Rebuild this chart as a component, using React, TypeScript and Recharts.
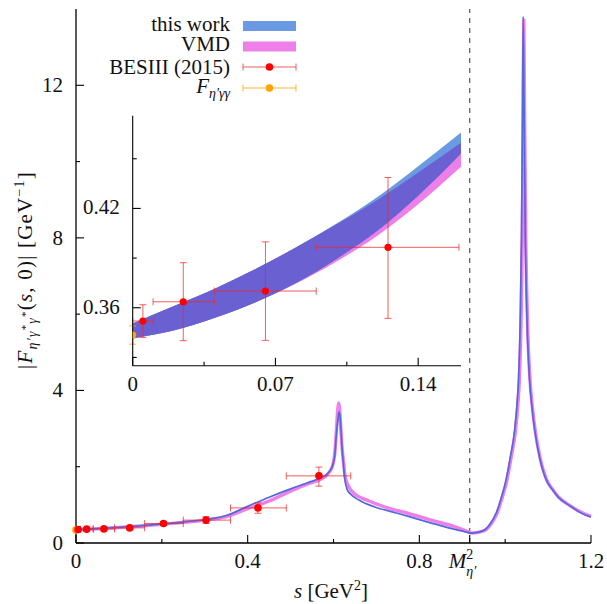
import React from 'react';
import { ComposedChart, Line, Area, Scatter, XAxis, YAxis, ErrorBar, ReferenceLine } from 'recharts';

const SERIF = "'Liberation Serif', 'Times New Roman', serif";
const FS = 21;
const INK = '#111';
const TXT = { fontFamily: SERIF, fontSize: FS, fill: INK } as React.CSSProperties;

const BLUE = '#6a9be2';
const PINK = '#ee7ee8';
const OVERLAP = '#6a60d2';
const BLUE_LINE = '#5468dc';
const RED = '#ff0000';
const RED_BAR = 'rgba(240,40,40,0.75)';
const ORANGE = '#ffa500';
const ORANGE_BAR = 'rgba(255,165,0,0.8)';

// ---------- main panel: "this work" ----------
const blueS = [0, 0.05, 0.1, 0.15, 0.2, 0.25, 0.3, 0.35, 0.4, 0.45, 0.5, 0.54, 0.57, 0.586, 0.597, 0.603, 0.6075, 0.611, 0.613, 0.6155, 0.6176, 0.6205, 0.623, 0.626, 0.632, 0.64, 0.66, 0.695, 0.749, 0.804, 0.858, 0.905, 0.92, 0.935, 0.952, 0.965, 0.979, 0.99, 1.002, 1.012, 1.022, 1.028, 1.031, 1.035, 1.038, 1.04, 1.042, 1.044, 1.047, 1.051, 1.057, 1.063, 1.069, 1.08, 1.096, 1.11, 1.123, 1.15, 1.185, 1.2];
const blueF = [0.346, 0.375, 0.409, 0.45, 0.5, 0.55, 0.61, 0.72, 0.96, 1.2, 1.42, 1.58, 1.71, 1.82, 2.0, 2.3, 2.95, 3.3, 3.43, 3.3, 2.95, 2.4, 2.09, 1.7, 1.4, 1.28, 1.12, 0.95, 0.78, 0.6, 0.43, 0.3, 0.26, 0.28, 0.34, 0.5, 0.78, 1.15, 1.65, 2.25, 2.95, 3.7, 4.26, 5.8, 8.0, 10.8, 13.8, 11.5, 8.0, 5.8, 4.26, 3.5, 2.95, 2.25, 1.65, 1.4, 1.21, 0.98, 0.74, 0.68];

// ---------- main panel: VMD ----------
const vmdS = [0, 0.05, 0.1, 0.15, 0.2, 0.25, 0.3, 0.35, 0.4, 0.45, 0.5, 0.54, 0.57, 0.586, 0.597, 0.603, 0.607, 0.61, 0.612, 0.6145, 0.617, 0.62, 0.623, 0.627, 0.636, 0.648, 0.679, 0.718, 0.773, 0.827, 0.882, 0.913, 0.922, 0.937, 0.954, 0.967, 0.981, 0.992, 1.004, 1.014, 1.024, 1.03, 1.033, 1.037, 1.04, 1.042, 1.0435, 1.045, 1.048, 1.052, 1.058, 1.064, 1.07, 1.081, 1.097, 1.111, 1.124, 1.151, 1.186, 1.2];
const vmdF = [0.346, 0.374, 0.406, 0.444, 0.49, 0.54, 0.6, 0.69, 0.9, 1.1, 1.36, 1.55, 1.67, 1.8, 2.0, 2.35, 3.0, 3.5, 3.67, 3.5, 3.0, 2.5, 2.15, 1.75, 1.47, 1.3, 1.12, 0.95, 0.78, 0.6, 0.43, 0.3, 0.26, 0.28, 0.34, 0.5, 0.78, 1.15, 1.65, 2.25, 2.95, 3.7, 4.26, 5.8, 8.0, 10.8, 13.7, 11.5, 8.0, 5.8, 4.26, 3.5, 2.95, 2.25, 1.65, 1.4, 1.21, 0.98, 0.76, 0.7];

// ---------- BESIII (2015) ----------
const besS = [0.005, 0.0248, 0.0651, 0.1252, 0.204, 0.303, 0.424, 0.566];
const besSLow = [0, 0.01, 0.04, 0.09, 0.16, 0.25, 0.36, 0.49];
const besSHigh = [0.01, 0.04, 0.09, 0.16, 0.25, 0.36, 0.49, 0.64];
const besF = [0.352, 0.3636, 0.3701, 0.3965, 0.51, 0.6, 0.92, 1.76];
const besFLow = [0.3421, 0.3401, 0.3403, 0.3536, 0.46, 0.51, 0.78, 1.49];
const besFHigh = [0.3618, 0.3872, 0.3998, 0.4387, 0.56, 0.69, 1.05, 1.99];

// ---------- F_{eta' gamma gamma} ----------
const ggS = [0];
const ggF = [0.3435];
const ggFLow = [0.338];
const ggFHigh = [0.349];

// ---------- inset bands ----------
const insetS = [0, 0.02, 0.04, 0.06, 0.08, 0.1, 0.12, 0.14, 0.161];
const blueLo = [0.3415, 0.3462, 0.3538, 0.3632, 0.3749, 0.3895, 0.4065, 0.4277, 0.4532];
const blueHi = [0.3505, 0.3609, 0.3714, 0.3832, 0.3964, 0.4109, 0.4269, 0.4455, 0.4659];
const pinkLo = [0.3415, 0.3462, 0.3538, 0.3632, 0.3745, 0.388, 0.4035, 0.4225, 0.4451];
const pinkHi = [0.3505, 0.3609, 0.3714, 0.3832, 0.3964, 0.4104, 0.4251, 0.4417, 0.4596];

// ---------- ticks ----------
const mEta2 = 0.9174;
const mainXTicks = [0, 0.2, 0.4, 0.6, 0.8, mEta2, 1.0, 1.2];
const mainXLabels = ['0', '', '0.4', '', '0.8', 'M', '', '1.2'];
const mainYTicks = [0, 2, 4, 6, 8, 10, 12];
const mainYLabels = ['0', '', '4', '', '8', '', '12'];
const insetXTicks = [0, 0.035, 0.07, 0.105, 0.14];
const insetXLabels = ['0', '', '0.07', '', '0.14'];
const insetYTicks = [0.33, 0.36, 0.39, 0.42, 0.45];
const insetYLabels = ['', '0.36', '', '0.42', ''];

// ---------- derived tables ----------
const mainBlue = blueS.map((s, i) => ({ s, F: blueF[i] }));
const mainVmd = vmdS.map((s, i) => ({ s, F: vmdF[i] }));
const besData = besS.map((s, i) => ({
  s,
  F: besF[i],
  sErr: [s - besSLow[i], besSHigh[i] - s],
  fErr: [besF[i] - besFLow[i], besFHigh[i] - besF[i]],
}));
const ggData = ggS.map((s, i) => ({ s, F: ggF[i], fErr: [ggF[i] - ggFLow[i], ggFHigh[i] - ggF[i]] }));
const insetBlue = insetS.map((s, i) => ({ s, range: [blueLo[i], blueHi[i]] }));
const insetPink = insetS.map((s, i) => ({ s, range: [pinkLo[i], pinkHi[i]] }));
const insetOverlap = insetS.map((s, i) => ({
  s,
  range: [Math.max(blueLo[i], pinkLo[i]), Math.min(blueHi[i], pinkHi[i])],
}));

const labelFor = (ticks: number[], labels: string[], v: number) => {
  const i = ticks.findIndex((t) => Math.abs(t - v) < 1e-9);
  return i >= 0 ? labels[i] : '';
};

const makeBottomTick = (ticks: number[], labels: string[], major: number, minor: number) => (props: any) => {
  const { x, y, payload } = props;
  const lab = labelFor(ticks, labels, payload.value);
  const len = lab ? major : minor;
  return (
    <g>
      <line x1={x} y1={y} x2={x} y2={y - len} stroke="#000" strokeWidth={1.1} />
      {lab === 'M' ? (
        <text x={x - 21} y={y + 25} style={TXT}>
          <tspan style={{ fontStyle: 'italic' }}>M</tspan>
          <tspan style={{ fontSize: 14 }} dy={-9}>2</tspan>
          <tspan style={{ fontSize: 14, fontStyle: 'italic' }} dx={-7} dy={17}>η′</tspan>
        </text>
      ) : lab ? (
        <text x={x} y={y + 25} textAnchor="middle" style={TXT}>
          {lab}
        </text>
      ) : null}
    </g>
  );
};

const makeTopTick = (ticks: number[], labels: string[], major: number, minor: number) => (props: any) => {
  const { x, y, payload } = props;
  const lab = labelFor(ticks, labels, payload.value);
  const len = lab ? major : minor;
  return <line x1={x} y1={y} x2={x} y2={y + len} stroke="#000" strokeWidth={1.1} />;
};

const makeLeftTick = (ticks: number[], labels: string[], major: number, minor: number, dy: number) => (props: any) => {
  const { x, y, payload } = props;
  const lab = labelFor(ticks, labels, payload.value);
  const len = lab ? major : minor;
  return (
    <g>
      <line x1={x} y1={y} x2={x + len} y2={y} stroke="#000" strokeWidth={1.1} />
      {lab ? (
        <text x={x - 13} y={y + dy} textAnchor="end" style={TXT}>
          {lab}
        </text>
      ) : null}
    </g>
  );
};

const makeRightTick = (ticks: number[], labels: string[], major: number, minor: number) => (props: any) => {
  const { x, y, payload } = props;
  const lab = labelFor(ticks, labels, payload.value);
  const len = lab ? major : minor;
  return <line x1={x} y1={y} x2={x - len} y2={y} stroke="#000" strokeWidth={1.1} />;
};

const axisLine = { stroke: '#000', strokeWidth: 1.3 };

const dotShape = (r: number, fill: string) => (props: any) =>
  props.cx == null ? <g /> : <circle cx={props.cx} cy={props.cy} r={r} fill={fill} />;

function MainChart() {
  return (
    <ComposedChart width={607} height={604} margin={{ top: 9, right: 16, bottom: 0, left: 0 }}>
      <XAxis xAxisId={0} type="number" dataKey="s" domain={[0, 1.2]} ticks={mainXTicks} interval={0} height={61}
        tickSize={0} tickMargin={0} tickLine={false} axisLine={axisLine} tick={makeBottomTick(mainXTicks, mainXLabels, 8, 4)} />
      <XAxis xAxisId="top" orientation="top" type="number" dataKey="s" domain={[0, 1.2]} ticks={mainXTicks} interval={0} height={0}
        tickSize={0} tickMargin={0} tickLine={false} axisLine={axisLine} tick={makeTopTick(mainXTicks, mainXLabels, 8, 4)} />
      <YAxis yAxisId={0} type="number" domain={[0, 14]} ticks={mainYTicks} interval={0} width={76}
        tickSize={0} tickMargin={0} tickLine={false} axisLine={axisLine} tick={makeLeftTick(mainYTicks, mainYLabels, 8, 4, 7)} />
      <YAxis yAxisId="right" orientation="right" type="number" domain={[0, 14]} ticks={mainYTicks} interval={0} width={0}
        tickSize={0} tickMargin={0} tickLine={false} axisLine={axisLine} tick={makeRightTick(mainYTicks, mainYLabels, 8, 4)} />
      <ReferenceLine x={mEta2} stroke="#555" strokeWidth={1.2} strokeDasharray="5 5" />
      <Line data={mainVmd} dataKey="F" type="monotone" stroke={PINK} strokeWidth={3.4} dot={false} activeDot={false} isAnimationActive={false} />
      <Line data={mainBlue} dataKey="F" type="monotone" stroke={BLUE_LINE} strokeWidth={1.7} dot={false} activeDot={false} isAnimationActive={false} />
      <Scatter data={ggData} dataKey="F" shape={dotShape(3.8, ORANGE)} isAnimationActive={false}>
        <ErrorBar dataKey="fErr" direction="y" width={3.5} stroke={ORANGE_BAR} strokeWidth={1} />
      </Scatter>
      <Scatter data={besData} dataKey="F" shape={dotShape(3.8, RED)} isAnimationActive={false}>
        <ErrorBar dataKey="sErr" direction="x" width={3.5} stroke={RED_BAR} strokeWidth={1} />
        <ErrorBar dataKey="fErr" direction="y" width={3.5} stroke={RED_BAR} strokeWidth={1} />
      </Scatter>
    </ComposedChart>
  );
}

function InsetChart() {
  const al = { stroke: '#000', strokeWidth: 1.1 };
  return (
    <ComposedChart width={400} height={290} margin={{ top: 5.7, right: 9, bottom: 0, left: 0 }}>
      <XAxis xAxisId={0} type="number" dataKey="s" domain={[0, 0.161]} allowDataOverflow ticks={insetXTicks} interval={0} height={34.3}
        tickSize={0} tickMargin={0} tickLine={false} axisLine={al} tick={makeBottomTick(insetXTicks, insetXLabels, 8, 4)} />
      <XAxis xAxisId="top" orientation="top" type="number" dataKey="s" domain={[0, 0.161]} ticks={insetXTicks} interval={0} height={0}
        tickSize={0} tickMargin={0} tickLine={false} axisLine={al} tick={makeTopTick(insetXTicks, insetXLabels, 8, 4)} />
      <YAxis yAxisId={0} type="number" domain={[0.325, 0.476]} allowDataOverflow ticks={insetYTicks} interval={0} width={62.7}
        tickSize={0} tickMargin={0} tickLine={false} axisLine={al} tick={makeLeftTick(insetYTicks, insetYLabels, 8, 4, 6)} />
      <YAxis yAxisId="right" orientation="right" type="number" domain={[0.325, 0.476]} ticks={insetYTicks} interval={0} width={0}
        tickSize={0} tickMargin={0} tickLine={false} axisLine={al} tick={makeRightTick(insetYTicks, insetYLabels, 8, 4)} />
      <Area data={insetPink} dataKey="range" type="monotone" fill={PINK} fillOpacity={1} stroke="none" dot={false} activeDot={false} isAnimationActive={false} />
      <Area data={insetBlue} dataKey="range" type="monotone" fill={BLUE} fillOpacity={1} stroke="none" dot={false} activeDot={false} isAnimationActive={false} />
      <Area data={insetOverlap} dataKey="range" type="monotone" fill={OVERLAP} fillOpacity={1} stroke="none" dot={false} activeDot={false} isAnimationActive={false} />
      <Scatter data={ggData} dataKey="F" shape={dotShape(3.6, ORANGE)} isAnimationActive={false}>
        <ErrorBar dataKey="fErr" direction="y" width={3.5} stroke={ORANGE_BAR} strokeWidth={1} />
      </Scatter>
      <Scatter data={besData.slice(0, 4)} dataKey="F" shape={dotShape(3.6, RED)} isAnimationActive={false}>
        <ErrorBar dataKey="sErr" direction="x" width={3.5} stroke={RED_BAR} strokeWidth={1} />
        <ErrorBar dataKey="fErr" direction="y" width={3.5} stroke={RED_BAR} strokeWidth={1} />
      </Scatter>
    </ComposedChart>
  );
}

function Overlay() {
  const legendX = 230;
  const sx0 = 243;
  const sx1 = 296;
  const it = { fontStyle: 'italic' } as React.CSSProperties;
  const errSample = (y: number, color: string, bar: string) => (
    <g>
      <line x1={sx0} y1={y} x2={sx1} y2={y} stroke={bar} strokeWidth={1} />
      <line x1={sx0} y1={y - 3.5} x2={sx0} y2={y + 3.5} stroke={bar} strokeWidth={1} />
      <line x1={sx1} y1={y - 3.5} x2={sx1} y2={y + 3.5} stroke={bar} strokeWidth={1} />
      <circle cx={(sx0 + sx1) / 2} cy={y} r={3.8} fill={color} />
    </g>
  );
  return (
    <svg width={607} height={604} style={{ position: 'absolute', left: 0, top: 0, pointerEvents: 'none' }}>
      <text x={legendX} y={31} textAnchor="end" style={TXT}>this work</text>
      <text x={legendX} y={50.5} textAnchor="end" style={TXT}>VMD</text>
      <text x={legendX} y={73.5} textAnchor="end" style={TXT}>BESIII (2015)</text>
      <text x={legendX} y={93} textAnchor="end" style={TXT}>
        <tspan style={it}>F</tspan>
        <tspan style={{ ...it, fontSize: 14 }} dy={5}>η′γγ</tspan>
      </text>
      <text x={331} y={598} textAnchor="middle" style={TXT}>
        <tspan style={it}>s</tspan>
        <tspan> [GeV</tspan>
        <tspan style={{ fontSize: 14 }} dy={-8}>2</tspan>
        <tspan dy={8}>]</tspan>
      </text>
      <text transform="translate(32,270) rotate(-90)" textAnchor="middle" style={{ ...TXT, letterSpacing: 1.2 }}>
        <tspan>|</tspan>
        <tspan style={it}>F</tspan>
        <tspan style={{ ...it, fontSize: 14 }} dy={5}>η′γ</tspan>
        <tspan style={{ fontSize: 11 }} dy={-8}>*</tspan>
        <tspan style={{ ...it, fontSize: 14 }} dy={8}>γ</tspan>
        <tspan style={{ fontSize: 11 }} dy={-8}>*</tspan>
        <tspan dy={3}>(</tspan>
        <tspan style={it}>s</tspan>
        <tspan>, 0)| [GeV</tspan>
        <tspan style={{ fontSize: 14 }} dy={-8}>−1</tspan>
        <tspan dy={8}>]</tspan>
      </text>
      <rect x={sx0} y={21} width={sx1 - sx0} height={10} fill={BLUE} />
      <rect x={sx0} y={41.5} width={sx1 - sx0} height={10} fill={PINK} />
      {errSample(67, RED, RED_BAR)}
      {errSample(88, ORANGE, ORANGE_BAR)}
    </svg>
  );
}

export default function App() {
  return (
    <div style={{ position: 'absolute', left: 0, top: 0, width: 607, height: 604, background: '#fff', overflow: 'hidden' }}>
      <div style={{ position: 'absolute', left: 0, top: 0 }}>
        <MainChart />
      </div>
      <div style={{ position: 'absolute', left: 70, top: 110 }}>
        <InsetChart />
      </div>
      <Overlay />
    </div>
  );
}
